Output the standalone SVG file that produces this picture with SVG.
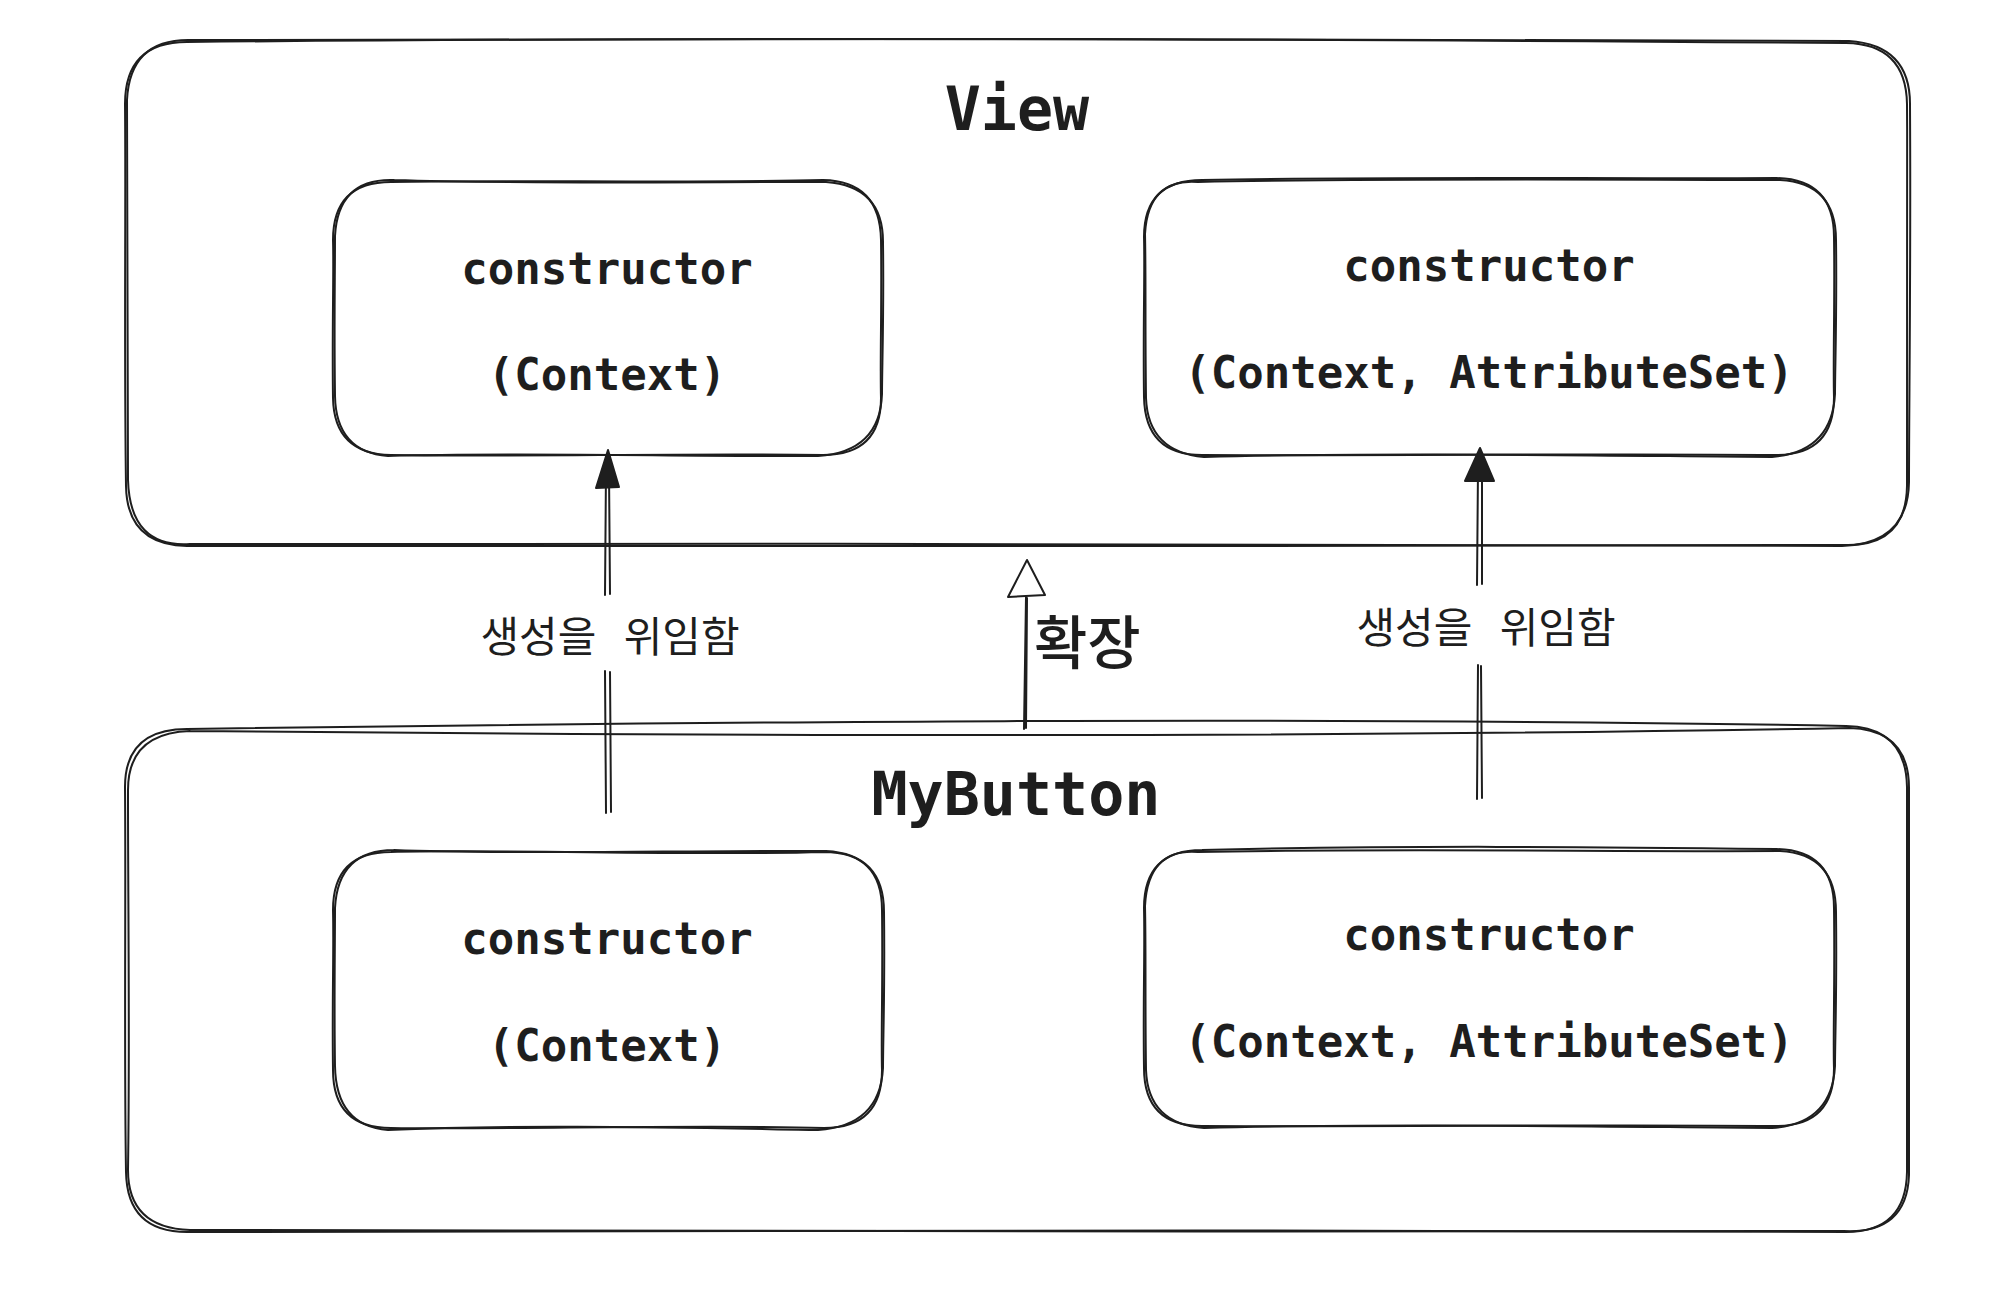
<svg xmlns="http://www.w3.org/2000/svg" width="2016" height="1296" viewBox="0 0 2016 1296">
<style>
.s{fill:none;stroke:#1e1e1e;stroke-width:2;stroke-linecap:round;stroke-linejoin:round}
.m{font-family:"DejaVu Sans Mono","Liberation Mono",monospace;font-weight:bold;fill:#1e1e1e;text-anchor:middle}
.k{font-family:"Noto Sans CJK KR","Noto Sans",sans-serif;fill:#1e1e1e}
.h{fill:#1e1e1e;stroke:#1e1e1e;stroke-width:2;stroke-linejoin:round}
</style>
<rect width="2016" height="1296" fill="#ffffff"/>

<g id="view">
<path class="s" d="M187,42 C700,37 1300,39 1846,43 Q1906,44 1907,104 C1908,250 1906,400 1907,486 Q1906,546 1846,545 C1300,546 700,547 187,546 Q127,545 126,486 C124,350 126,200 125,104 Q125,42 187,42 Z"/>
<path class="s" d="M192,40 C650,40 1350,37 1849,41 Q1911,45 1910,106 C1911,260 1909,410 1909,482 Q1908,544 1842,546 C1250,543 750,544 190,544 Q130,548 128,480 C127,340 128,210 127,100 Q130,38 192,40"/>
<text class="m" x="1017" y="130" font-size="60">View</text>
</g>

<g id="view-ctor1">
<path class="s" d="M391,182 C500,180 700,183 823,180 Q880,181 881,240 C882,300 880,360 881,398 Q881,455 823,455 C700,453 500,457 391,455 Q334,454 333,398 C332,330 334,270 333,240 Q333,182 391,182 Z"/>
<path class="s" d="M394,180 C520,184 690,182 826,182 Q884,186 883,244 C884,310 882,370 882,394 Q880,452 818,456 C690,457 520,452 388,456 Q336,452 335,396 C334,320 335,280 335,236 Q338,178 394,180"/>
<text class="m" x="607" y="284" font-size="44">constructor</text>
<text class="m" x="607" y="390" font-size="44">(Context)</text>
</g>

<g id="view-ctor2">
<path class="s" d="M1202,180 C1400,176 1600,179 1776,178 Q1834,179 1834,237 C1835,300 1833,360 1834,397 Q1834,455 1776,455 C1600,453 1400,456 1202,455 Q1145,455 1144,397 C1143,330 1145,270 1144,237 Q1144,180 1202,180 Z"/>
<path class="s" d="M1198,182 C1380,178 1620,180 1780,180 Q1836,183 1836,240 C1837,310 1835,370 1835,394 Q1832,452 1772,457 C1620,456 1380,452 1204,457 Q1148,452 1146,398 C1145,320 1146,280 1145,234 Q1148,178 1198,182"/>
<text class="m" x="1489" y="281" font-size="44">constructor</text>
<text class="m" x="1489" y="388" font-size="44">(Context, AttributeSet)</text>
</g>

<g id="mybutton">
<path class="s" d="M187,729 C700,722 1300,716 1846,726 Q1906,727 1907,787 C1908,950 1906,1100 1907,1172 Q1906,1232 1846,1232 C1300,1229 700,1231 187,1232 Q127,1232 126,1172 C124,1050 126,900 125,787 Q125,729 187,729 Z"/>
<path class="s" d="M190,731 C700,736 1300,738 1850,728 Q1910,730 1909,790 C1910,960 1908,1110 1909,1175 Q1907,1234 1844,1231 C1300,1234 700,1228 190,1230 Q128,1228 128,1170 C130,1040 128,910 128,790 Q128,733 190,731"/>
<text class="m" x="1016" y="815" font-size="60">MyButton</text>
</g>

<g id="mybutton-ctor1">
<path class="s" d="M391,852 C500,849 700,856 824,852 Q882,852 882,910 C883,980 881,1040 882,1070 Q882,1128 824,1128 C700,1124 500,1130 391,1128 Q333,1128 333,1070 C332,1000 334,950 333,910 Q333,852 391,852 Z"/>
<path class="s" d="M394,850 C520,855 690,850 826,851 Q884,854 884,912 C885,990 883,1040 883,1068 Q880,1126 818,1130 C690,1128 520,1124 388,1130 Q336,1126 335,1066 C334,1000 335,950 335,908 Q338,850 394,850"/>
<text class="m" x="607" y="954" font-size="44">constructor</text>
<text class="m" x="607" y="1061" font-size="44">(Context)</text>
</g>

<g id="mybutton-ctor2">
<path class="s" d="M1202,850 C1400,845 1600,847 1776,849 Q1834,850 1834,908 C1835,980 1833,1040 1834,1068 Q1834,1126 1776,1126 C1600,1124 1400,1127 1202,1126 Q1144,1126 1144,1068 C1143,1000 1145,950 1144,908 Q1144,850 1202,850 Z"/>
<path class="s" d="M1198,852 C1380,848 1620,852 1780,851 Q1836,854 1836,912 C1837,990 1835,1040 1835,1066 Q1832,1124 1772,1128 C1620,1127 1380,1123 1204,1128 Q1148,1124 1146,1070 C1145,1000 1146,950 1145,906 Q1148,848 1198,852"/>
<text class="m" x="1489" y="950" font-size="44">constructor</text>
<text class="m" x="1489" y="1057" font-size="44">(Context, AttributeSet)</text>
</g>

<g id="connectors">
<!-- left: 생성을 위임함 -->
<path class="s" d="M606,813 L605,671 M611,812 L610,672"/>
<path class="s" d="M605,595 L606,470 M610,594 L609,470"/>
<path class="h" d="M608,450 L619,487 L596,488 Z"/>
<text class="k" x="610" y="652" font-size="42" text-anchor="middle" word-spacing="18">생성을 위임함</text>
<!-- right: 생성을 위임함 -->
<path class="s" d="M1477,799 L1478,665 M1482,798 L1481,666"/>
<path class="s" d="M1477,585 L1478,468 M1482,584 L1482,468"/>
<path class="h" d="M1480,448 L1494,481 L1465,481 Z"/>
<text class="k" x="1486" y="643" font-size="42" text-anchor="middle" word-spacing="18">생성을 위임함</text>
<!-- middle: 확장 -->
<path class="s" d="M1024,729 L1026,597 M1026,728 L1027,598"/>
<path class="s" d="M1027,560 L1045,595 L1008,597 Z" fill="#ffffff"/>
<text class="k" x="1034" y="664" font-size="58" font-weight="500">확장</text>
</g>
</svg>
